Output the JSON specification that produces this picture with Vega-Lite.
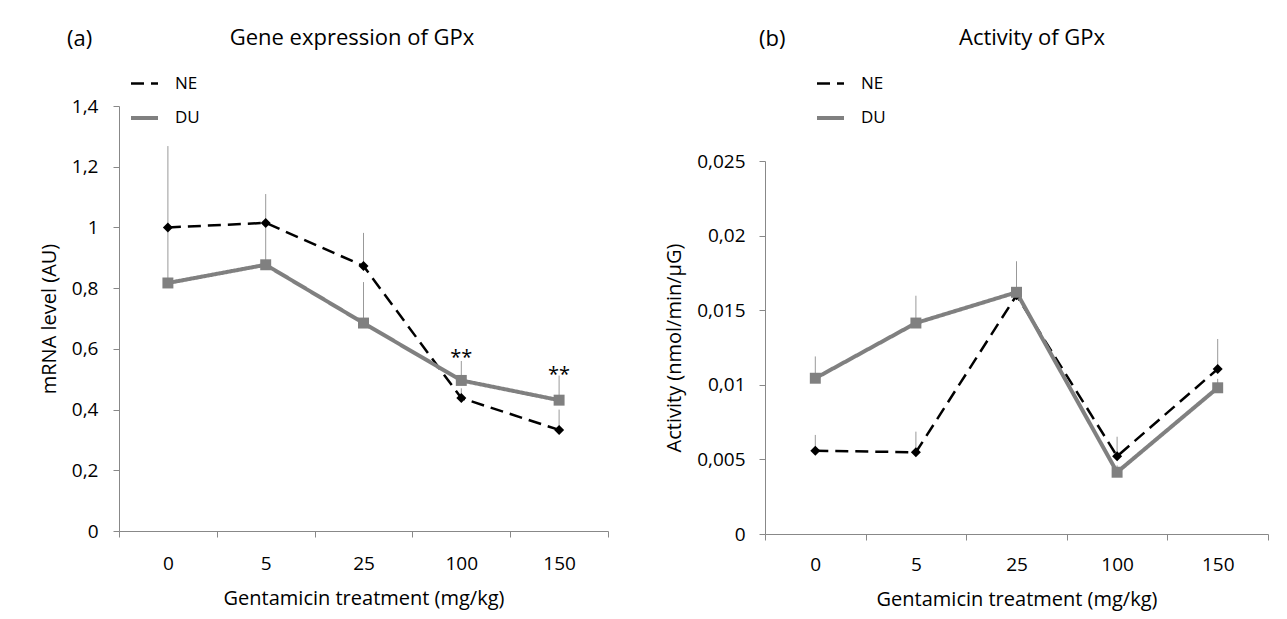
{
  "$schema": "https://vega.github.io/schema/vega-lite/v6.json",
  "padding": {"left": 39, "top": 27, "right": 0, "bottom": 6},
  "autosize": {"type": "pad"},
  "background": "white",
  "spacing": 55,
  "resolve": {
    "scale": {"color": "independent", "strokeDash": "independent", "strokeWidth": "independent"},
    "legend": {"color": "independent", "strokeDash": "independent", "strokeWidth": "independent"}
  },
  "config": {
    "font": "Open Sans",
    "view": {"stroke": null},
    "axis": {"grid": false, "domainColor": "#888888", "tickColor": "#888888", "domainWidth": 1, "tickWidth": 1, "tickSize": 6, "labelColor": "#000000", "titleColor": "#000000", "labelFontSize": 19, "titleFontSize": 20, "titleFontWeight": "normal", "labelFont": "Open Sans", "titleFont": "Open Sans"},
    "title": {"fontSize": 22, "fontWeight": "normal", "color": "#000000", "font": "Open Sans"},
    "legend": {"labelFontSize": 17, "labelColor": "#000000", "labelFont": "Open Sans"}
  },
  "hconcat": [
    {
      "title": {"text": "(a)", "anchor": "start", "frame": "group", "offset": 0, "dx": -52, "dy": 24},
      "bounds": "flush",
      "resolve": {
        "scale": {"color": "independent", "strokeDash": "independent", "strokeWidth": "independent"},
        "legend": {"color": "independent", "strokeDash": "independent", "strokeWidth": "independent"}
      },
      "vconcat": [
        {
          "width": 489,
          "height": 425,
          "title": {"text": "Gene expression of GPx", "anchor": "middle", "frame": "group", "dx": -11.5, "offset": 18.5},
          "data": {"values": [
            {"dose": "0", "series": "NE", "value": 1.0, "err": 1.268},
            {"dose": "5", "series": "NE", "value": 1.015, "err": 1.11},
            {"dose": "25", "series": "NE", "value": 0.873, "err": 0.982},
            {"dose": "100", "series": "NE", "value": 0.438, "err": 0.47},
            {"dose": "150", "series": "NE", "value": 0.333, "err": 0.4},
            {"dose": "0", "series": "DU", "value": 0.817, "err": 0.985},
            {"dose": "5", "series": "DU", "value": 0.877, "err": 1.0},
            {"dose": "25", "series": "DU", "value": 0.685, "err": 0.82},
            {"dose": "100", "series": "DU", "value": 0.496, "err": 0.56},
            {"dose": "150", "series": "DU", "value": 0.431, "err": 0.512}
          ]},
          "encoding": {
            "x": {"field": "dose", "type": "ordinal", "sort": ["0", "5", "25", "100", "150"],
                  "scale": {"type": "band", "paddingInner": 0, "paddingOuter": 0},
                  "axis": {"title": "Gentamicin treatment (mg/kg)", "labelAngle": 0, "tickBand": "extent", "labelPadding": 17, "titlePadding": 15}}
          },
          "layer": [
            {
              "mark": {"type": "rule", "color": "#999999", "strokeWidth": 1},
              "encoding": {
                "y": {"field": "value", "type": "quantitative", "scale": {"domain": [0, 1.4], "nice": false},
                      "axis": {"title": "mRNA  level (AU)", "values": [0, 0.2, 0.4, 0.6, 0.8, 1, 1.2, 1.4], "labelExpr": "replace(format(datum.value, '.1~f'), '.', ',')", "labelPadding": 15, "titlePadding": 12}},
                "y2": {"field": "err"}
              }
            },
            {
              "mark": {"type": "line"},
              "encoding": {
                "y": {"field": "value", "type": "quantitative"},
                "color": {"field": "series", "type": "nominal", "scale": {"domain": ["NE", "DU"], "range": ["#000000", "#808080"]},
                          "legend": {"orient": "none", "legendX": 10, "legendY": -37.5, "title": null, "symbolType": "stroke", "symbolSize": 729, "labelOffset": 15, "rowPadding": 11, "padding": 0}},
                "strokeDash": {"field": "series", "type": "nominal", "scale": {"domain": ["NE", "DU"], "range": [[13, 7], [1, 0]]},
                          "legend": {"orient": "none", "legendX": 10, "legendY": -37.5, "title": null, "symbolType": "stroke", "symbolSize": 729, "labelOffset": 15, "rowPadding": 11, "padding": 0}},
                "strokeWidth": {"field": "series", "type": "nominal", "scale": {"domain": ["NE", "DU"], "range": [2.5, 4]},
                          "legend": {"orient": "none", "legendX": 10, "legendY": -37.5, "title": null, "symbolType": "stroke", "symbolSize": 729, "labelOffset": 15, "rowPadding": 11, "padding": 0}}
              }
            },
            {
              "transform": [{"filter": "datum.series === 'NE'"}],
              "mark": {"type": "point", "filled": true, "opacity": 1, "size": 100, "shape": "diamond", "color": "#000000"},
              "encoding": {"y": {"field": "value", "type": "quantitative"}}
            },
            {
              "transform": [{"filter": "datum.series === 'DU'"}],
              "mark": {"type": "point", "filled": true, "opacity": 1, "size": 120, "shape": "square", "color": "#808080"},
              "encoding": {"y": {"field": "value", "type": "quantitative"}}
            },
            {
              "data": {"values": [
                {"dose": "100", "pos": 0.55, "label": "**"},
                {"dose": "150", "pos": 0.494, "label": "**"}
              ]},
              "mark": {"type": "text", "fontSize": 20, "baseline": "alphabetic", "align": "center", "color": "#000000"},
              "encoding": {
                "y": {"field": "pos", "type": "quantitative"},
                "text": {"field": "label"}
              }
            }
          ]
        }
      ]
    },
    {
      "title": {"text": "(b)", "anchor": "start", "frame": "group", "offset": 0, "dx": -6, "dy": 24},
      "bounds": "flush",
      "spacing": 0,
      "resolve": {
        "scale": {"color": "independent", "strokeDash": "independent", "strokeWidth": "independent"},
        "legend": {"color": "independent", "strokeDash": "independent", "strokeWidth": "independent"}
      },
      "vconcat": [
        {
          "width": 503,
          "height": 55,
          "data": {"values": [{"blank": 0}]},
          "mark": {"type": "point", "opacity": 0},
          "encoding": {}
        },
        {
          "width": 503,
          "height": 373,
          "title": {"text": "Activity of GPx", "anchor": "middle", "frame": "group", "dx": 15.5, "offset": 18.5},
          "data": {"values": [
            {"dose": "0", "series": "NE", "value": 0.00558, "err": 0.00664},
            {"dose": "5", "series": "NE", "value": 0.00548, "err": 0.00686},
            {"dose": "25", "series": "NE", "value": 0.016, "err": 0.01828},
            {"dose": "100", "series": "NE", "value": 0.00521, "err": 0.00652},
            {"dose": "150", "series": "NE", "value": 0.01106, "err": 0.01307},
            {"dose": "0", "series": "DU", "value": 0.01044, "err": 0.0119},
            {"dose": "5", "series": "DU", "value": 0.01414, "err": 0.01597},
            {"dose": "25", "series": "DU", "value": 0.0162, "err": 0.018},
            {"dose": "100", "series": "DU", "value": 0.00414, "err": 0.0046},
            {"dose": "150", "series": "DU", "value": 0.0098, "err": 0.0104}
          ]},
          "encoding": {
            "x": {"field": "dose", "type": "ordinal", "sort": ["0", "5", "25", "100", "150"],
                  "scale": {"type": "band", "paddingInner": 0, "paddingOuter": 0},
                  "axis": {"title": "Gentamicin treatment (mg/kg)", "labelAngle": 0, "tickBand": "extent", "labelPadding": 15, "titlePadding": 15}}
          },
          "layer": [
            {
              "mark": {"type": "rule", "color": "#999999", "strokeWidth": 1},
              "encoding": {
                "y": {"field": "value", "type": "quantitative", "scale": {"domain": [0, 0.025], "nice": false},
                      "axis": {"title": "Activity (nmol/min/µG)", "values": [0, 0.005, 0.01, 0.015, 0.02, 0.025], "labelExpr": "replace(format(datum.value, '.3~f'), '.', ',')", "labelPadding": 14, "titlePadding": 12}},
                "y2": {"field": "err"}
              }
            },
            {
              "mark": {"type": "line"},
              "encoding": {
                "y": {"field": "value", "type": "quantitative"},
                "color": {"field": "series", "type": "nominal", "scale": {"domain": ["NE", "DU"], "range": ["#000000", "#808080"]},
                          "legend": {"orient": "none", "legendX": 50, "legendY": -92.5, "title": null, "symbolType": "stroke", "symbolSize": 729, "labelOffset": 15, "rowPadding": 11, "padding": 0}},
                "strokeDash": {"field": "series", "type": "nominal", "scale": {"domain": ["NE", "DU"], "range": [[13, 7], [1, 0]]},
                          "legend": {"orient": "none", "legendX": 50, "legendY": -92.5, "title": null, "symbolType": "stroke", "symbolSize": 729, "labelOffset": 15, "rowPadding": 11, "padding": 0}},
                "strokeWidth": {"field": "series", "type": "nominal", "scale": {"domain": ["NE", "DU"], "range": [2.5, 4]},
                          "legend": {"orient": "none", "legendX": 50, "legendY": -92.5, "title": null, "symbolType": "stroke", "symbolSize": 729, "labelOffset": 15, "rowPadding": 11, "padding": 0}}
              }
            },
            {
              "transform": [{"filter": "datum.series === 'NE'"}],
              "mark": {"type": "point", "filled": true, "opacity": 1, "size": 100, "shape": "diamond", "color": "#000000"},
              "encoding": {"y": {"field": "value", "type": "quantitative"}}
            },
            {
              "transform": [{"filter": "datum.series === 'DU'"}],
              "mark": {"type": "point", "filled": true, "opacity": 1, "size": 120, "shape": "square", "color": "#808080"},
              "encoding": {"y": {"field": "value", "type": "quantitative"}}
            }
          ]
        }
      ]
    }
  ]
}
